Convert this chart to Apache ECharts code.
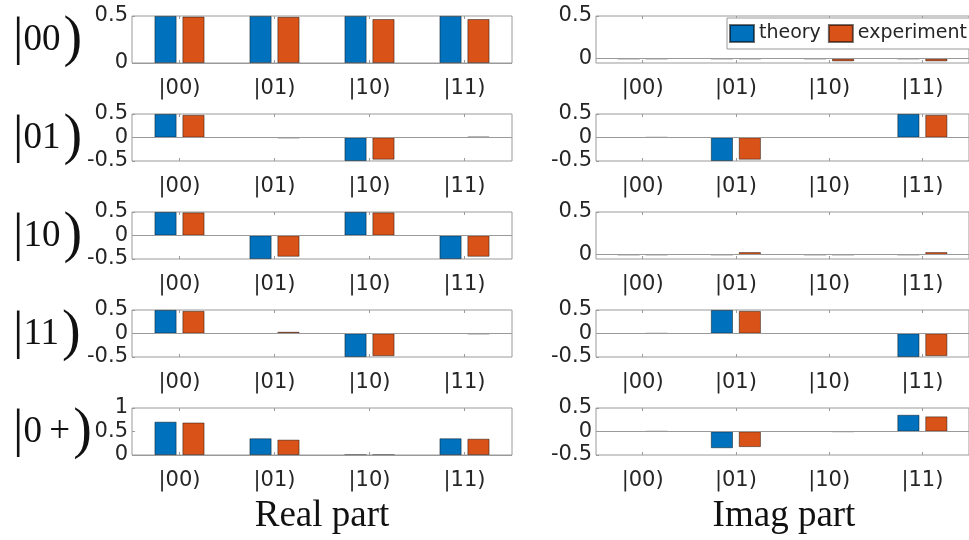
<!DOCTYPE html>
<html>
<head>
<meta charset="utf-8">
<script src="https://cdn.jsdelivr.net/npm/echarts@6/dist/echarts.min.js"></script>
<style>html,body{margin:0;padding:0;background:#fff;}#c{width:969px;height:540px;}</style>
</head>
<body>
<div id="c"></div>
<script>
// ---- data ----
const categories = ['|00)', '|01)', '|10)', '|11)'];
const rowLabels = ['00', '01', '10', '11', '0\u2009+'];
const seriesNames = ['theory', 'experiment'];
const realTheory = [
  [0.5, 0.5, 0.5, 0.5],
  [0.5, 0, -0.5, 0],
  [0.5, -0.5, 0.5, -0.5],
  [0.5, 0, -0.5, 0],
  [0.707, 0.354, 0, 0.354]
];
const realExp = [
  [0.493, 0.49, 0.467, 0.467],
  [0.48, -0.01, -0.47, 0.015],
  [0.49, -0.45, 0.49, -0.45],
  [0.48, 0.035, -0.48, -0.01],
  [0.69, 0.325, 0, 0.345]
];
const imagTheory = [
  [0, 0, 0, 0],
  [0, -0.5, 0, 0.5],
  [0, 0, 0, 0],
  [0, 0.5, 0, -0.5],
  [0, -0.354, 0, 0.354]
];
const imagExp = [
  [0, 0, -0.03, -0.03],
  [0.005, -0.47, 0, 0.48],
  [0, 0.03, 0, 0.03],
  [0.005, 0.48, 0, -0.48],
  [0.005, -0.33, -0.005, 0.32]
];
const realRanges = [[0, 0.5], [-0.5, 0.5], [-0.5, 0.5], [-0.5, 0.5], [0, 1]];
const imagRanges = [[-0.05, 0.5], [-0.5, 0.5], [-0.05, 0.5], [-0.5, 0.5], [-0.5, 0.5]];
const realTicks = [[0, 0.5], [-0.5, 0, 0.5], [-0.5, 0, 0.5], [-0.5, 0, 0.5], [0, 0.5, 1]];
const imagTicks = [[0, 0.5], [-0.5, 0, 0.5], [0, 0.5], [-0.5, 0, 0.5], [-0.5, 0, 0.5]];
const columnTitles = ['Real part', 'Imag part'];

// ---- layout ----
const rowTops = [16, 114, 212, 310, 408];
const rowH = 47;
const colLeft = [132, 596];
const colWidth = 380;
const colors = ['#0072BD', '#D95319'];
const axisGrey = '#9a9a9a';
const txt = '#262626';
const sans = 'DejaVu Sans';
const serif = 'Liberation Serif';

const grids = [], xAxes = [], yAxes = [], series = [];
const cols = [
  { theory: realTheory, exp: realExp, ranges: realRanges, ticks: realTicks },
  { theory: imagTheory, exp: imagExp, ranges: imagRanges, ticks: imagTicks }
];

cols.forEach((col, c) => {
  rowTops.forEach((top, r) => {
    const gi = grids.length;
    grids.push({
      left: colLeft[c], top: top, width: colWidth, height: rowH,
      show: true, borderColor: axisGrey, borderWidth: 1, backgroundColor: 'transparent'
    });
    const xb = xAxes.length;
    xAxes.push({
      type: 'category', gridIndex: gi, data: categories, position: 'bottom',
      axisLine: { show: false, onZero: false },
      axisTick: { show: true, inside: true, length: 3, alignWithLabel: true, lineStyle: { color: axisGrey } },
      axisLabel: { fontSize: 21, fontFamily: sans, color: txt, margin: 15, interval: 0 },
      splitLine: { show: false }
    });
    xAxes.push({
      type: 'category', gridIndex: gi, data: categories, position: 'top',
      axisLine: { show: false, onZero: false },
      axisTick: { show: true, inside: true, length: 3, alignWithLabel: true, lineStyle: { color: axisGrey } },
      axisLabel: { show: false }, splitLine: { show: false }
    });
    const yi = yAxes.length;
    yAxes.push({
      type: 'value', gridIndex: gi, min: col.ranges[r][0], max: col.ranges[r][1],
      axisLine: { show: false },
      axisTick: { show: true, inside: true, length: 3, customValues: col.ticks[r], lineStyle: { color: axisGrey } },
      axisLabel: { fontSize: 21, fontFamily: sans, color: txt, margin: 4, customValues: col.ticks[r],
        formatter: v => String(v) },
      splitLine: { show: false }
    });
    [col.theory[r], col.exp[r]].forEach((vals, s) => {
      const ser = {
        type: 'bar', name: seriesNames[s], xAxisIndex: xb, yAxisIndex: yi,
        data: vals, barWidth: 22, barGap: '27%',
        itemStyle: { color: colors[s], borderColor: 'rgba(0,0,0,0.55)', borderWidth: 0.8 },
        emphasis: { disabled: true }
      };
      if (s === 0) {
        ser.markLine = {
          silent: true, symbol: ['none', 'none'], label: { show: false },
          lineStyle: { color: axisGrey, type: 'solid', width: 1 },
          data: [{ yAxis: 0 }], animation: false
        };
      }
      series.push(ser);
    });
  });
});

const graphics = [];
rowLabels.forEach((lab, r) => {
  graphics.push({
    type: 'text', left: 13, top: rowTops[r] - 4,
    style: {
      text: '{b||}{d|' + lab + '}{p|)}',
      rich: {
        b: { fontSize: 52, fontFamily: serif, fill: '#111', verticalAlign: 'middle' },
        d: { fontSize: 37, fontFamily: serif, fill: '#111', verticalAlign: 'middle', padding: [0, 0, 0, 0] },
        p: { fontSize: 56, fontFamily: serif, fill: '#111', verticalAlign: 'middle', padding: [0, 0, 0, 3] }
      }
    }
  });
});
const titleX = [322, 784];
columnTitles.forEach((t, i) => {
  graphics.push({
    type: 'text', x: titleX[i], y: 516,
    style: { text: t, fontSize: 37, fontFamily: serif, fill: '#111', align: 'center', verticalAlign: 'middle' }
  });
});

const chart = echarts.init(document.getElementById('c'), null, { renderer: 'canvas' });
chart.setOption({
  animation: false,
  backgroundColor: '#fff',
  grid: grids,
  xAxis: xAxes,
  yAxis: yAxes,
  series: series,
  legend: {
    data: seriesNames, left: 727, top: 18, orient: 'horizontal', width: 400,
    itemWidth: 24, itemHeight: 17, itemGap: 7, icon: 'rect',
    padding: [6, 3, 6, 2], borderColor: axisGrey, borderWidth: 1, backgroundColor: '#fff',
    textStyle: { fontSize: 19, fontFamily: sans, color: txt },
    selectedMode: false, z: 20
  },
  graphic: graphics
});
</script>
</body>
</html>
